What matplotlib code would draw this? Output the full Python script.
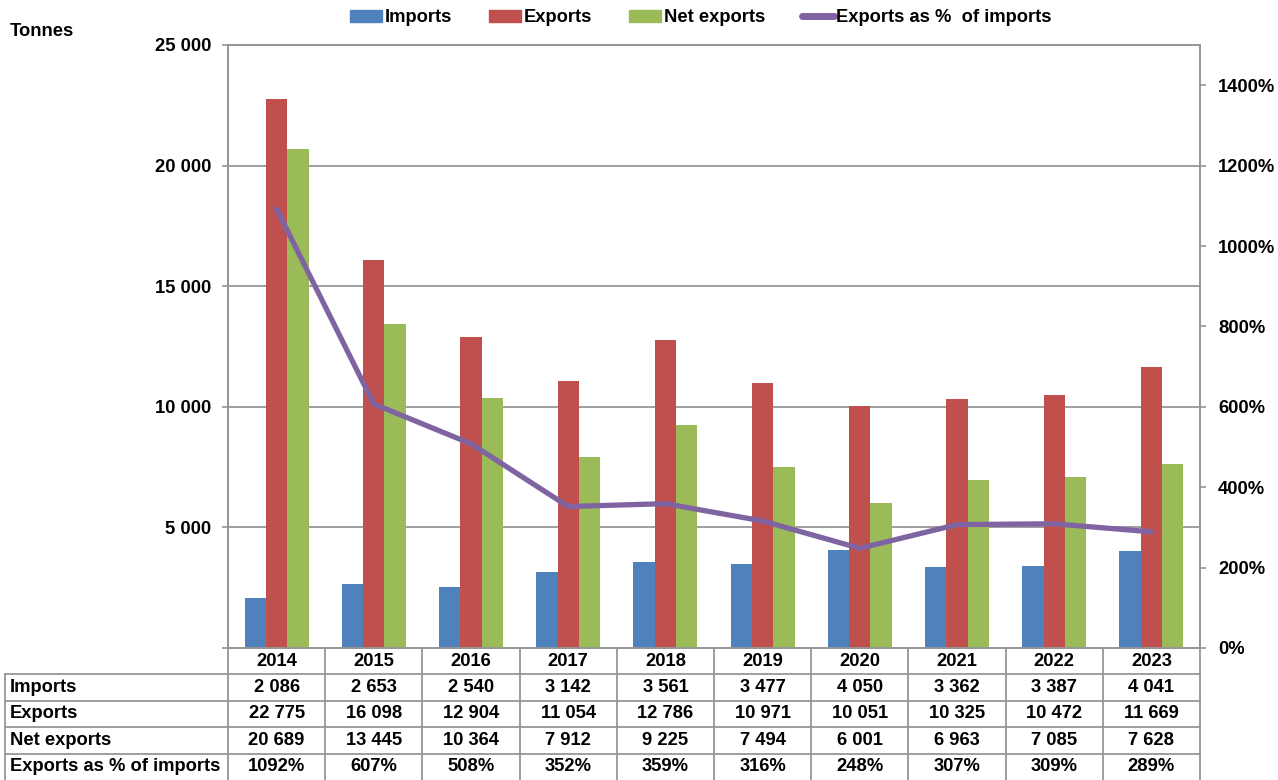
import matplotlib
matplotlib.use("Agg")
import matplotlib.pyplot as plt
from matplotlib.patches import Patch
from matplotlib.lines import Line2D
from matplotlib.transforms import blended_transform_factory
import numpy as np

years = ["2014", "2015", "2016", "2017", "2018", "2019", "2020", "2021", "2022", "2023"]
imports = [2086, 2653, 2540, 3142, 3561, 3477, 4050, 3362, 3387, 4041]
exports = [22775, 16098, 12904, 11054, 12786, 10971, 10051, 10325, 10472, 11669]
net_exports = [20689, 13445, 10364, 7912, 9225, 7494, 6001, 6963, 7085, 7628]
pct_of_imports = [1092, 607, 508, 352, 359, 316, 248, 307, 309, 289]

row_names = ["Imports", "Exports", "Net exports", "Exports as % of imports"]

C_BLUE = "#4F81BD"
C_RED = "#C0504D"
C_GREEN = "#9BBB59"
C_PURPLE = "#8064A2"
C_GRID = "#969696"

plt.rcParams["font.family"] = ["Liberation Sans", "DejaVu Sans"]
plt.rcParams["font.weight"] = "bold"
FS = 13.2

W, H = 1278, 780
fig = plt.figure(figsize=(W / 100, H / 100), dpi=100)


def fx(px):
    return px / W


def fy(py):
    return 1 - py / H


ax_left, ax_right, ax_top, ax_bot = 228, 1200, 45, 648
ax = fig.add_axes([fx(ax_left), fy(ax_bot), fx(ax_right - ax_left), (ax_bot - ax_top) / H])

x = np.arange(len(years))
bw = 0.22
ax.bar(x - bw, imports, bw, color=C_BLUE, zorder=3)
ax.bar(x, exports, bw, color=C_RED, zorder=3)
ax.bar(x + bw, net_exports, bw, color=C_GREEN, zorder=3)

ax.set_xlim(-0.5, len(years) - 0.5)
ax.set_ylim(0, 25000)
ax.set_yticks(np.arange(0, 25001, 5000))
ax.set_yticklabels(["" if v == 0 else f"{v:,}".replace(",", " ") for v in range(0, 25001, 5000)])
ax.set_xticks([])
ax.yaxis.grid(True, color=C_GRID, lw=1.3, zorder=0)
ax.tick_params(axis="y", length=4, width=1.2, color=C_GRID, pad=8, labelsize=FS)
for s in ax.spines.values():
    s.set_color(C_GRID)
    s.set_linewidth(1.3)

ax2 = ax.twinx()
ax2.plot(x, pct_of_imports, color=C_PURPLE, lw=3.8, solid_capstyle="round", zorder=5)
ax2.set_ylim(0, 1500)
ax2.set_yticks(np.arange(0, 1401, 200))
ax2.set_yticklabels([f"{v}%" for v in range(0, 1401, 200)])
ax2.tick_params(axis="y", length=4, width=1.2, color=C_GRID, pad=9, labelsize=FS)
for s in ax2.spines.values():
    s.set_color(C_GRID)
    s.set_linewidth(1.3)

fig.text(fx(10), fy(32), "Tonnes", fontsize=FS, ha="left", va="center")

# legend
handles = [
    Patch(color=C_BLUE),
    Patch(color=C_RED),
    Patch(color=C_GREEN),
    Line2D([0], [0], color=C_PURPLE, lw=5, solid_capstyle="round"),
]
fig.legend(handles, ["Imports", "Exports", "Net exports", "Exports as %  of imports"],
           loc="center", bbox_to_anchor=(fx(701), fy(18)), ncol=4, frameon=False,
           fontsize=FS, handlelength=1.75, handleheight=0.6, handletextpad=0.15,
           columnspacing=2.0)

# data table under the chart
tr = blended_transform_factory(ax.transData, fig.transFigure)
row_y = [648, 674, 700.5, 727, 753.5, 780]
line_kw = dict(color=C_GRID, lw=1.3, clip_on=False)

for yy in row_y[1:5]:
    fig.add_artist(Line2D([fx(5), fx(ax_right)], [fy(yy), fy(yy)], transform=fig.transFigure, **line_kw))
fig.add_artist(Line2D([fx(5), fx(5)], [fy(row_y[1]), fy(row_y[-1])], transform=fig.transFigure, **line_kw))
for k in range(len(years) + 1):
    fig.add_artist(Line2D([k - 0.5, k - 0.5], [fy(row_y[0]), fy(row_y[-1])], transform=tr, **line_kw))


def fmt(v):
    return f"{v:,}".replace(",", " ")


rows = [
    years,
    [fmt(v) for v in imports],
    [fmt(v) for v in exports],
    [fmt(v) for v in net_exports],
    [f"{v}%" for v in pct_of_imports],
]
for r, vals in enumerate(rows):
    yc = fy((row_y[r] + row_y[r + 1]) / 2)
    for k, t in enumerate(vals):
        fig.text(x[k], yc, t, transform=tr, ha="center", va="center", fontsize=FS)
    if r > 0:
        fig.text(fx(10), yc, row_names[r - 1], ha="left", va="center", fontsize=FS)

fig.savefig("out.png", dpi=100)
